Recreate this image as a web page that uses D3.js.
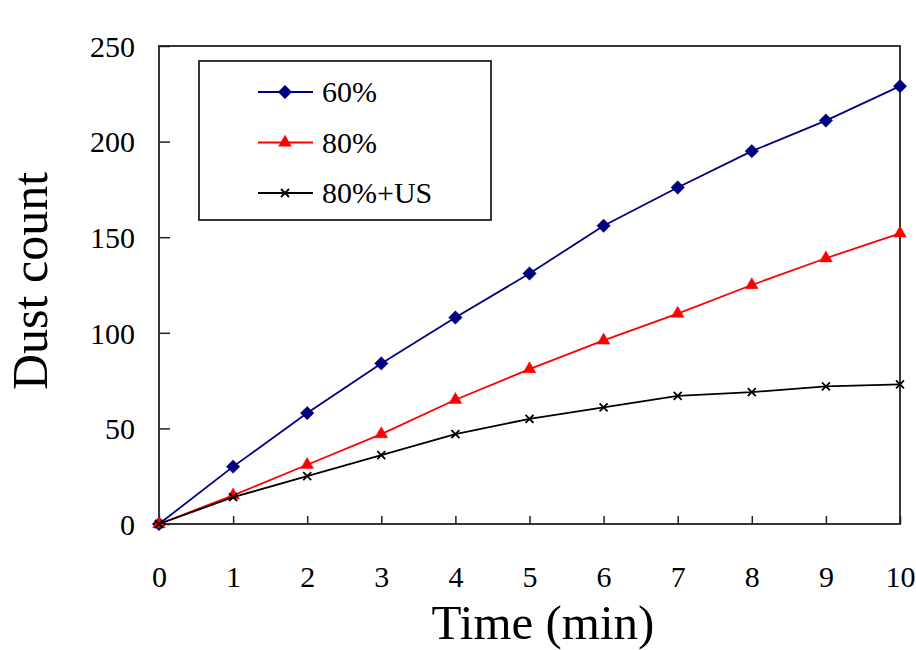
<!DOCTYPE html>
<html>
<head>
<meta charset="utf-8">
<script src="https://cdn.jsdelivr.net/npm/d3@7"></script>
<style>
  body { margin: 0; background: #fff; }
  text { font-family: "Liberation Serif", "Times New Roman", serif; fill: #000; }
</style>
</head>
<body>
<div id="chart"></div>
<script>
// data
var times = [0, 1, 2, 3, 4, 5, 6, 7, 8, 9, 10];
var seriesNames = ["60%", "80%", "80%+US"];
var values60 = [0, 30, 58, 84, 108, 131, 156, 176, 195, 211, 229];
var values80 = [0, 15, 31, 47, 65, 81, 96, 110, 125, 139, 152];
var values80US = [0, 14, 25, 36, 47, 55, 61, 67, 69, 72, 73];
var yTicks = [0, 50, 100, 150, 200, 250];
var xTicks = [0, 1, 2, 3, 4, 5, 6, 7, 8, 9, 10];

var width = 916;
var height = 650;
var padding = {top: 46, right: 16, left: 159, bottom: 126};

var svg = d3.select("#chart").append("svg").attr("width", width).attr("height", height);

var x = d3.scaleLinear().domain([0, 10]).range([padding.left, width - padding.right]);
var y = d3.scaleLinear().domain([0, 250]).range([height - padding.bottom, padding.top]);

var series = [
    {name: seriesNames[0], values: values60, color: "#000080", marker: "diamond"},
    {name: seriesNames[1], values: values80, color: "#ff0000", marker: "triangle"},
    {name: seriesNames[2], values: values80US, color: "#000000", marker: "x"}
];

// marker shapes
function markerPath(type) {
    if (type == "diamond") return d3.symbol(d3.symbolSquare, 90)();
    if (type == "triangle") return d3.symbol(d3.symbolTriangle, 70)();
    return "M-4,-4L4,4M-4,4L4,-4";
}
function markerRotate(type) {
    return type == "diamond" ? " rotate(45)" : "";
}

// axes (ticks point inward)
var yAxis = d3.axisLeft(y).tickValues(yTicks).tickSize(-11).tickPadding(24).tickFormat(d3.format("d"));
var xAxis = d3.axisBottom(x).tickValues(xTicks).tickSize(-8).tickPadding(42).tickFormat(d3.format("d"));

var gy = svg.append("g").attr("transform", "translate(" + padding.left + ",0)").call(yAxis);
var gx = svg.append("g").attr("transform", "translate(0," + (height - padding.bottom) + ")").call(xAxis);

[gx, gy].forEach(function (g) {
    g.attr("font-family", null);
    g.select(".domain").remove();
    g.selectAll("line").attr("stroke", "#222").attr("stroke-width", 1.5);
    g.selectAll("text").attr("font-size", "30px");
});
gy.selectAll("text").attr("dy", "0.34em");
gx.selectAll("text").attr("dy", "0.71em");

// plot frame
svg.append("rect")
    .attr("x", padding.left)
    .attr("y", padding.top)
    .attr("width", width - padding.left - padding.right)
    .attr("height", height - padding.top - padding.bottom)
    .attr("fill", "none")
    .attr("stroke", "#222")
    .attr("stroke-width", 1.8);

// lines
var line = d3.line()
    .x(function (d, i) { return x(times[i]); })
    .y(function (d) { return y(d); });

var sg = svg.selectAll(".series")
    .data(series)
    .enter()
    .append("g")
    .attr("class", "series");

sg.append("path")
    .attr("d", function (d) { return line(d.values); })
    .attr("fill", "none")
    .attr("stroke", function (d) { return d.color; })
    .attr("stroke-width", 1.8);

sg.each(function (s) {
    d3.select(this).selectAll(".mark")
        .data(s.values)
        .enter()
        .append("path")
        .attr("class", "mark")
        .attr("d", markerPath(s.marker))
        .attr("transform", function (d, i) {
            return "translate(" + x(times[i]) + "," + y(d) + ")" + markerRotate(s.marker);
        })
        .attr("fill", s.marker == "x" ? "none" : s.color)
        .attr("stroke", s.color)
        .attr("stroke-width", s.marker == "x" ? 1.8 : 0.5);
});

// legend
var legend = svg.append("g").attr("transform", "translate(199,61)");
legend.append("rect")
    .attr("width", 292)
    .attr("height", 159)
    .attr("fill", "#fff")
    .attr("stroke", "#222")
    .attr("stroke-width", 1.8);

var li = legend.selectAll(".item")
    .data(series)
    .enter()
    .append("g")
    .attr("class", "item")
    .attr("transform", function (d, i) { return "translate(0," + (31 + i * 50.5) + ")"; });

li.append("line")
    .attr("x1", 59).attr("x2", 114)
    .attr("stroke", function (d) { return d.color; })
    .attr("stroke-width", 1.8);
li.append("path")
    .attr("d", function (d) { return markerPath(d.marker); })
    .attr("transform", function (d) { return "translate(86,0)" + markerRotate(d.marker); })
    .attr("fill", function (d) { return d.marker == "x" ? "none" : d.color; })
    .attr("stroke", function (d) { return d.color; })
    .attr("stroke-width", function (d) { return d.marker == "x" ? 1.8 : 0.5; });
li.append("text")
    .attr("x", 123)
    .attr("dy", "0.34em")
    .attr("font-size", "30px")
    .text(function (d) { return d.name; });

// axis titles
svg.append("text")
    .attr("transform", "translate(47,281) rotate(-90)")
    .attr("text-anchor", "middle")
    .attr("font-size", "50px")
    .text("Dust count");

svg.append("text")
    .attr("x", 543)
    .attr("y", 639)
    .attr("text-anchor", "middle")
    .attr("font-size", "49px")
    .text("Time (min)");
</script>
</body>
</html>
